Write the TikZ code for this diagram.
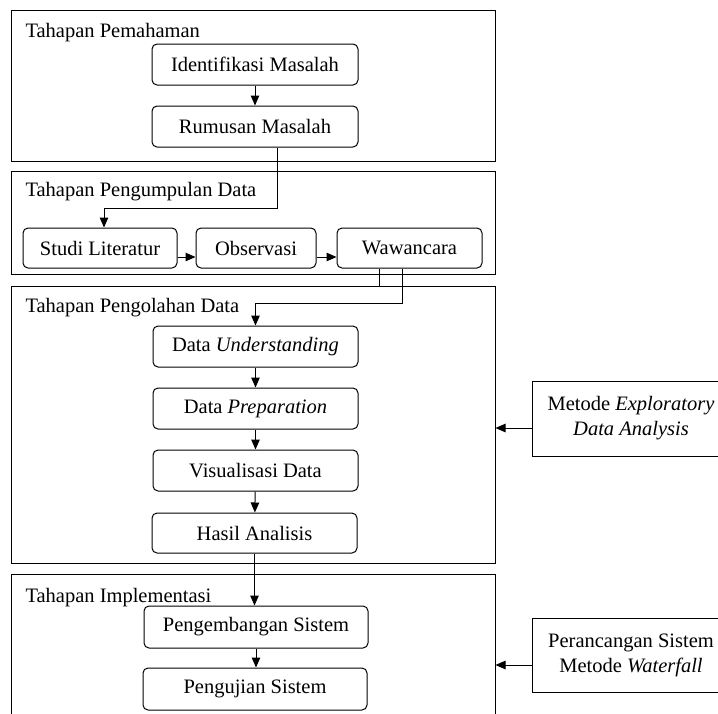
\documentclass[tikz,border=0pt]{standalone}
\usepackage{fontspec}
\setmainfont{Liberation Serif}
\newfontfamily\diagfont{Liberation Serif}
\usepackage{tikz}
\usetikzlibrary{arrows.meta}

\begin{document}
\begin{tikzpicture}[
            x = 1pt, y = -1pt, % pixel grid, y going down
            line width = 1pt, % line style
            font = \diagfont\fontsize{20.5pt}{25pt}\selectfont,
            stage/.style = {draw, rectangle, inner sep = 0pt},
            stagelabel/.style = {anchor = base west, inner sep = 0pt},
            stepbox/.style = {draw, rectangle, rounded corners = 5pt,
                minimum width = 206pt, minimum height = 41pt, inner sep = 0pt},
            method/.style = {draw, rectangle, align = center,
                minimum width = 198pt, minimum height = 75pt, inner sep = 0pt},
            flow/.style = {-{Triangle[length = 10pt, width = 8.5pt]}} % arrow head style
            ]
            \useasboundingbox (0,0) rectangle (718,713);
            \clip (0,0) rectangle (718,713);

            % stages
            \node[stage, minimum width = 484pt, minimum height = 151pt] (s1) at (253,85.5) {};
            \node[stage, minimum width = 484pt, minimum height = 103pt] (s2) at (253,222.5) {};
            \node[stage, minimum width = 484pt, minimum height = 277pt] (s3) at (253,424.5) {};
            \node[stage, minimum width = 484pt, minimum height = 156pt] (s4) at (253,652) {};

            \node[stagelabel] (l1) at (25,37) {Tahapan Pemahaman};
            \node[stagelabel] (l2) at (25,196) {Tahapan Pengumpulan Data};
            \node[stagelabel] (l3) at (25,312) {Tahapan Pengolahan Data};
            \node[stagelabel] (l4) at (25,602) {Tahapan Implementasi};

            % steps
            \node[stepbox] (idm) at (255,64.5) {Identifikasi Masalah};
            \node[stepbox] (rum) at (255,126.5) {Rumusan Masalah};

            \node[stepbox, minimum width = 154pt, minimum height = 40pt] (sl) at (100,248) {Studi Literatur};
            \node[stepbox, minimum width = 120pt, minimum height = 40pt] (obs) at (256,248) {Observasi};
            \node[stepbox, minimum width = 145pt, minimum height = 40pt] (waw) at (409.5,248) {Wawancara};

            \node[stepbox, minimum width = 205pt] (du) at (255.5,346.5) {Data \textit{Understanding}};
            \node[stepbox, minimum width = 205pt] (dp) at (255.5,408.5) {Data \textit{Preparation}};
            \node[stepbox, minimum width = 205pt] (vd) at (255.5,470.5) {Visualisasi Data};
            \node[stepbox, minimum width = 205pt, minimum height = 40pt] (ha) at (254.5,533) {Hasil Analisis};

            \node[stepbox, minimum width = 224pt, minimum height = 42pt] (pgs) at (256,627) {Pengembangan Sistem};
            \node[stepbox, minimum width = 224pt, minimum height = 42pt] (pjs) at (255,689) {Pengujian Sistem};

            % methods
            \node[method] (eda) at (631,418.5) {Metode \textit{Exploratory}\\\textit{Data Analysis}};
            \node[method, minimum height = 74pt] (wf) at (631,655) {Perancangan Sistem\\Metode \textit{Waterfall}};

            % connectors
            \draw[flow] (idm) -- (rum);
            \draw[flow] ([xshift = 22pt]rum.south) -- ++(0,61) -| ([xshift = 4pt]sl.north);
            \draw[flow] ([yshift = -9pt]sl.east) -- ([yshift = -9pt]obs.west);
            \draw[flow] ([yshift = -9pt]obs.east) -- ([yshift = -9pt]waw.west);
            \draw ([xshift = -30.5pt]waw.south) -- ([xshift = -30.5pt]waw.south |- s3.north);
            \draw[flow] ([xshift = -7.5pt]waw.south) -- ++(0,35) -| (du.north);
            \draw[flow] (du) -- (dp);
            \draw[flow] (dp) -- (vd);
            \draw[flow] (vd) -- (ha);
            \draw[flow] (ha.south) -- (ha.south |- pgs.north);
            \draw[flow] (pgs.south) -- (pgs.south |- pjs.north);
            \draw[flow] ([yshift = -9.5pt]eda.west) -- ([yshift = -9.5pt]eda.west -| s3.east);
            \draw[flow] ([yshift = -10pt]wf.west) -- ([yshift = -10pt]wf.west -| s4.east);
        \end{tikzpicture}
\end{document}
